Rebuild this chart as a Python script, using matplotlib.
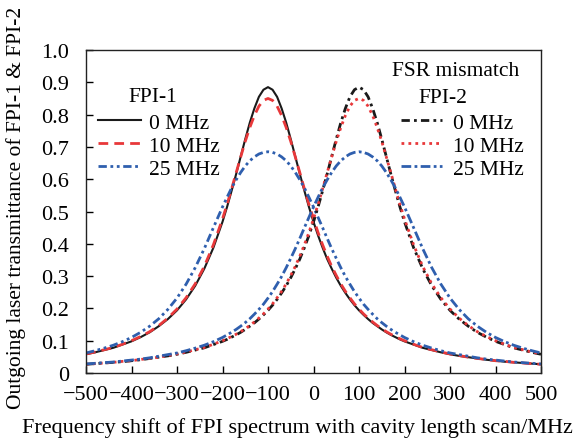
import matplotlib
matplotlib.use("Agg")
import matplotlib.pyplot as plt

plt.rcParams['font.family'] = ['Liberation Serif', 'DejaVu Serif']

# frequency shift (MHz): 20 MHz steps in the tails, 10 MHz steps around the peaks
freq = (list(range(-500, -219, 20)) + list(range(-200, 201, 10))
        + list(range(220, 501, 20)))

# FPI-1 transmittance (peak at -100 MHz)
fpi1_0 = [0.058, 0.064, 0.071, 0.078, 0.088, 0.098, 0.111, 0.126, 0.145, 0.167,
          0.194, 0.228, 0.270, 0.323, 0.388,
          0.468, 0.514, 0.564, 0.616, 0.670, 0.724, 0.775, 0.819, 0.855, 0.877,
          0.885, 0.877, 0.855, 0.819, 0.775, 0.724, 0.670, 0.616, 0.564, 0.514,
          0.468, 0.426, 0.388, 0.353, 0.323, 0.295, 0.270, 0.248, 0.228, 0.210,
          0.194, 0.180, 0.167, 0.155, 0.145, 0.135, 0.126, 0.118, 0.111, 0.104,
          0.098,
          0.088, 0.078, 0.071, 0.064, 0.058, 0.053, 0.049, 0.045, 0.041, 0.038,
          0.035, 0.033, 0.031, 0.029, 0.027]
fpi1_10 = [0.059, 0.065, 0.072, 0.079, 0.089, 0.100, 0.113, 0.128, 0.147, 0.170,
           0.198, 0.233, 0.276, 0.330, 0.397,
           0.477, 0.522, 0.570, 0.620, 0.669, 0.717, 0.760, 0.797, 0.826, 0.844,
           0.850, 0.844, 0.826, 0.797, 0.760, 0.717, 0.669, 0.620, 0.570, 0.522,
           0.477, 0.435, 0.397, 0.362, 0.330, 0.302, 0.276, 0.253, 0.233, 0.214,
           0.198, 0.183, 0.170, 0.158, 0.147, 0.137, 0.128, 0.120, 0.113, 0.106,
           0.100,
           0.089, 0.079, 0.072, 0.065, 0.059, 0.054, 0.049, 0.045, 0.042, 0.038,
           0.036, 0.033, 0.031, 0.029, 0.027]
fpi1_25 = [0.062, 0.069, 0.077, 0.086, 0.097, 0.110, 0.126, 0.145, 0.168, 0.197,
           0.232, 0.275, 0.326, 0.385, 0.450,
           0.514, 0.544, 0.573, 0.598, 0.621, 0.641, 0.657, 0.669, 0.678, 0.683,
           0.685, 0.683, 0.678, 0.669, 0.657, 0.641, 0.621, 0.598, 0.573, 0.544,
           0.514, 0.482, 0.450, 0.417, 0.385, 0.355, 0.326, 0.299, 0.275, 0.252,
           0.232, 0.213, 0.197, 0.182, 0.168, 0.156, 0.145, 0.135, 0.126, 0.118,
           0.110,
           0.097, 0.086, 0.077, 0.069, 0.062, 0.057, 0.052, 0.047, 0.043, 0.040,
           0.037, 0.034, 0.032, 0.030, 0.028]

# FPI-2 transmittance (peak at +100 MHz)
fpi2_0 = [0.027, 0.029, 0.031, 0.033, 0.035, 0.038, 0.041, 0.045, 0.049, 0.053,
          0.058, 0.064, 0.071, 0.078, 0.088,
          0.098, 0.104, 0.111, 0.118, 0.126, 0.135, 0.145, 0.155, 0.167, 0.180,
          0.194, 0.210, 0.228, 0.248, 0.270, 0.295, 0.323, 0.353, 0.388, 0.426,
          0.468, 0.514, 0.564, 0.616, 0.670, 0.724, 0.775, 0.819, 0.855, 0.877,
          0.885, 0.877, 0.855, 0.819, 0.775, 0.724, 0.670, 0.616, 0.564, 0.514,
          0.468,
          0.388, 0.323, 0.270, 0.228, 0.194, 0.167, 0.145, 0.126, 0.111, 0.098,
          0.088, 0.078, 0.071, 0.064, 0.058]
fpi2_10 = [0.027, 0.029, 0.031, 0.033, 0.036, 0.038, 0.042, 0.045, 0.049, 0.054,
           0.059, 0.065, 0.072, 0.079, 0.089,
           0.100, 0.106, 0.113, 0.120, 0.128, 0.137, 0.147, 0.158, 0.170, 0.183,
           0.198, 0.214, 0.233, 0.253, 0.276, 0.302, 0.330, 0.362, 0.397, 0.435,
           0.477, 0.522, 0.570, 0.620, 0.669, 0.717, 0.760, 0.797, 0.826, 0.844,
           0.850, 0.844, 0.826, 0.797, 0.760, 0.717, 0.669, 0.620, 0.570, 0.522,
           0.477,
           0.397, 0.330, 0.276, 0.233, 0.198, 0.170, 0.147, 0.128, 0.113, 0.100,
           0.089, 0.079, 0.072, 0.065, 0.059]
fpi2_25 = [0.028, 0.030, 0.032, 0.034, 0.037, 0.040, 0.043, 0.047, 0.052, 0.057,
           0.062, 0.069, 0.077, 0.086, 0.097,
           0.110, 0.118, 0.126, 0.135, 0.145, 0.156, 0.168, 0.182, 0.197, 0.213,
           0.232, 0.252, 0.275, 0.299, 0.326, 0.355, 0.385, 0.417, 0.450, 0.482,
           0.514, 0.544, 0.573, 0.598, 0.621, 0.641, 0.657, 0.669, 0.678, 0.683,
           0.685, 0.683, 0.678, 0.669, 0.657, 0.641, 0.621, 0.598, 0.573, 0.544,
           0.514,
           0.450, 0.385, 0.326, 0.275, 0.232, 0.197, 0.168, 0.145, 0.126, 0.110,
           0.097, 0.086, 0.077, 0.069, 0.062]

labels = ['0 MHz', '10 MHz', '25 MHz']
xticks = list(range(-500, 501, 100))
yticks = [0, 0.1, 0.2, 0.3, 0.4, 0.5, 0.6, 0.7, 0.8, 0.9, 1.0]

BLACK = '#1a1a1a'
RED = '#e8383a'
BLUE = '#2f5fae'
FS = 16
LFS = 15.5

fig = plt.figure(figsize=(5.8, 4.39), dpi=100)
ax = fig.add_axes([86/580, 65/439, 455/580, 323/439])

l1, = ax.plot(freq, fpi1_0, color=BLACK, lw=1.5, ls='-')
l2, = ax.plot(freq, fpi1_10, color=RED, lw=2.0, ls=(0, (3.5, 2.2)))
l3, = ax.plot(freq, fpi1_25, color=BLUE, lw=2.0, ls=(0, (3, 1.3, 1, 1.3, 1, 1.3)))
m1, = ax.plot(freq, fpi2_0, color=BLACK, lw=2.0, ls=(0, (3, 1.5, 1, 1.5)))
m2, = ax.plot(freq, fpi2_10, color=RED, lw=2.0, ls=(0, (1, 1.5)))
m3, = ax.plot(freq, fpi2_25, color=BLUE, lw=2.0, ls=(0, (3.5, 1.2, 1, 1.2)))

ax.set_xlim(-500, 500)
ax.set_ylim(0, 1.0)
ax.set_xticks(xticks)
ax.set_xticklabels(['\u2212%d' % -v if v < 0 else '%d' % v for v in xticks])
ax.set_yticks(yticks)
ax.set_yticklabels(['0'] + ['%.1f' % v for v in yticks[1:]])
ax.tick_params(direction='in', length=5, width=1, labelsize=FS,
               top=False, right=False)
ax.tick_params(axis='x', pad=9)
ax.tick_params(axis='y', pad=12)
for s in ax.spines.values():
    s.set_linewidth(1.0)
    s.set_color('#222222')

fig.text(297/580, 1 - 428/439,
         'Frequency shift of FPI spectrum with cavity length scan/MHz',
         fontsize=FS, ha='center', va='center')
fig.text(16/580, 1 - 208/439, 'Outgoing laser transmittance of FPI-1 & FPI-2',
         fontsize=15.5, ha='center', va='center', rotation=90)

leg1 = ax.legend([l1, l2, l3], labels, loc='upper left',
                 bbox_to_anchor=(0.026, 0.806), frameon=False, fontsize=LFS,
                 handlelength=2.0, handletextpad=0.4, labelspacing=0.14,
                 borderpad=0, borderaxespad=0)
ax.add_artist(leg1)
ax.legend([m1, m2, m3], labels, loc='upper left',
          bbox_to_anchor=(0.692, 0.806), frameon=False, fontsize=LFS,
          handlelength=1.9, handletextpad=0.5, labelspacing=0.14,
          borderpad=0, borderaxespad=0)

ax.text(0.147, 0.857, 'FPI-1', transform=ax.transAxes, fontsize=LFS,
        ha='center', va='center')
ax.text(0.813, 0.935, 'FSR mismatch', transform=ax.transAxes, fontsize=LFS,
        ha='center', va='center')
ax.text(0.785, 0.852, 'FPI-2', transform=ax.transAxes, fontsize=LFS,
        ha='center', va='center')

fig.savefig('out.png', dpi=100)
